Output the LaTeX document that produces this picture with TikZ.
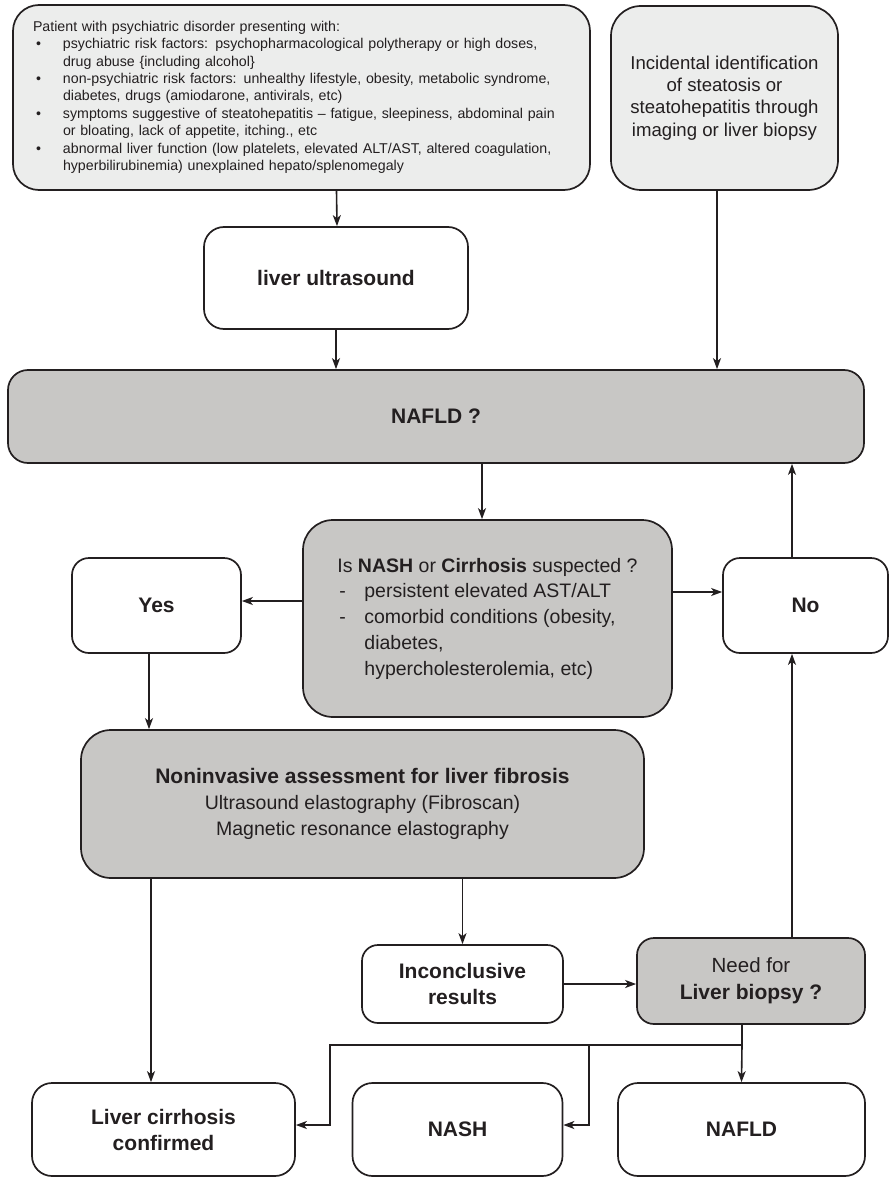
\documentclass[tikz,border=0pt]{standalone}
\usepackage{fontspec}
\setmainfont{Liberation Sans}
\usetikzlibrary{arrows.meta}
\definecolor{hellgrau}{HTML}{ECEDEC}
\definecolor{mittelgrau}{HTML}{C8C7C5}
\definecolor{tinte}{HTML}{231F20}

\tikzset{
    kasten/.style={draw=tinte, line width=1.7pt, text=tinte, inner sep=0pt, align=center,
        font=\fontsize{19.5}{25.7}\selectfont},
    hell/.style={kasten, fill=hellgrau},
    grau/.style={kasten, fill=mittelgrau},
    weiss/.style={kasten, fill=white},
    fett/.style={font=\fontsize{21}{26}\selectfont\bfseries},
    pfeil/.style={draw=tinte, line width=1.6pt, -{Stealth[length=11pt,width=8pt,inset=3pt]}},
    linie/.style={draw=tinte, line width=1.6pt}
}

\begin{document}
\begin{tikzpicture}[x=1pt, y=-1pt]
    \useasboundingbox (0,0) rectangle (889,1177);
    \path node[hell, rounded corners=26pt, minimum width=577pt, minimum height=185pt,
            inner xsep=20pt, text width=537pt, align=left,
            font=\fontsize{14.2}{17.4}\selectfont] (RISK) at (301.5,97.5) {%
            \begin{tabular}{@{}p{30pt}@{}l@{}}
            \multicolumn{2}{@{}l@{}}{Patient with psychiatric disorder presenting with:}\\
            \hspace{3pt}\textbullet & psychiatric risk factors: psychopharmacological polytherapy or high doses,\\
            & drug abuse \{including alcohol\}\\
            \hspace{3pt}\textbullet & non-psychiatric risk factors: unhealthy lifestyle, obesity, metabolic syndrome,\\
            & diabetes, drugs (amiodarone, antivirals, etc)\\
            \hspace{3pt}\textbullet & symptoms suggestive of steatohepatitis -- fatigue, sleepiness, abdominal pain\\
            & or bloating, lack of appetite, itching., etc\\
            \hspace{3pt}\textbullet & abnormal liver function (low platelets, elevated ALT/AST, altered coagulation,\\
            & hyperbilirubinemia) unexplained hepato/splenomegaly
            \end{tabular}}
        node[hell, rounded corners=30pt, minimum width=227pt, minimum height=184pt,
            font=\fontsize{18.6}{22.3}\selectfont] (INC) at (724.5,98)
            {Incidental identification\\of steatosis or\\steatohepatitis through\\imaging or liver biopsy}
        node[weiss, fett, rounded corners=20pt, minimum width=264pt, minimum height=102pt] (US) at (336,278) {liver ultrasound}
        node[grau, fett, rounded corners=20pt, minimum width=856pt, minimum height=93pt] (NAFLDq) at (436,416.5) {NAFLD ?}
        node[grau, rounded corners=30pt, minimum width=369pt, minimum height=197pt] (NASHq) at (487.5,618.5) {%
            \begin{tabular}{@{}p{27pt}@{}l@{}}
            \multicolumn{2}{@{}l@{}}{Is \textbf{NASH} or \textbf{Cirrhosis} suspected ?}\\
            \hspace{2pt}- & persistent elevated AST/ALT\\
            \hspace{2pt}- & comorbid conditions (obesity,\\
            & diabetes,\\
            & hypercholesterolemia, etc)
            \end{tabular}}
        node[weiss, fett, rounded corners=17pt, minimum width=169pt, minimum height=95pt] (YES) at (156.5,605.5) {Yes}
        node[weiss, fett, rounded corners=17pt, minimum width=165pt, minimum height=95pt] (NO) at (805.5,605.5) {No}
        node[grau, rounded corners=30pt, minimum width=563pt, minimum height=148pt,
            font=\fontsize{19.5}{26}\selectfont] (NIA) at (362.5,804)
            {{\fontsize{21}{26}\selectfont\bfseries Noninvasive assessment for liver fibrosis}\\
            Ultrasound elastography (Fibroscan)\\Magnetic resonance elastography}
        node[weiss, fett, rounded corners=16pt, minimum width=201pt, minimum height=78pt] (INCON) at (462.5,984) {Inconclusive\\results}
        node[grau, rounded corners=17pt, minimum width=228pt, minimum height=86pt,
            font=\fontsize{20.5}{27}\selectfont] (BIOPSY) at (751,981) {Need for\\\textbf{\fontsize{21}{27}\selectfont Liver biopsy ?}}
        node[weiss, fett, rounded corners=20pt, minimum width=263pt, minimum height=93pt] (CIRR) at (163.5,1129.5) {Liver cirrhosis\\confirmed}
        node[weiss, fett, rounded corners=20pt, minimum width=210pt, minimum height=93pt] (NASH) at (457.5,1129.5) {NASH}
        node[weiss, fett, rounded corners=20pt, minimum width=247pt, minimum height=93pt] (NAFLD) at (741.5,1129.5) {NAFLD};
    \coordinate (gabel) at (742,1045);
    \coordinate (knickL) at (330,1045);
    \coordinate (knickM) at (589,1045);
    \draw[pfeil] ([xshift=35pt]RISK.south) -- ([xshift=1pt]US.north);
    \draw[pfeil] (US.south) -- ([xshift=-100pt]NAFLDq.north);
    \draw[pfeil] ([xshift=-7.5pt]INC.south) -- ([xshift=281pt]NAFLDq.north);
    \draw[pfeil] ([xshift=46pt]NAFLDq.south) -- ([xshift=-5.5pt]NASHq.north);
    \draw[pfeil] ([yshift=17.5pt]NASHq.west) -- ([yshift=4.5pt]YES.east);
    \draw[pfeil] ([yshift=26.5pt]NASHq.east) -- ([yshift=13.5pt]NO.west);
    \draw[pfeil] ([xshift=-13.5pt]NO.north) -- ([xshift=356pt]NAFLDq.south);
    \draw[pfeil] ([xshift=-7.5pt]YES.south) -- ([xshift=-213.5pt]NIA.north);
    \draw[pfeil] ([xshift=-211.5pt]NIA.south) -- ([xshift=-12.5pt]CIRR.north);
    \draw[pfeil] ([xshift=100pt]NIA.south) -- (INCON.north);
    \draw[pfeil] (INCON.east) -- ([yshift=-3pt]BIOPSY.west);
    \draw[pfeil] ([xshift=41pt]BIOPSY.north) -- ([xshift=-13.5pt]NO.south);
    \draw[linie] ([xshift=-9pt]BIOPSY.south) -- (gabel);
    \draw[pfeil] (gabel) -- (NAFLD.north);
    \draw[pfeil] (gabel) -- (knickL) |- ([yshift=4.5pt]CIRR.east);
    \draw[pfeil] (knickM) |- ([yshift=4.5pt]NASH.east);
\end{tikzpicture}
\end{document}
